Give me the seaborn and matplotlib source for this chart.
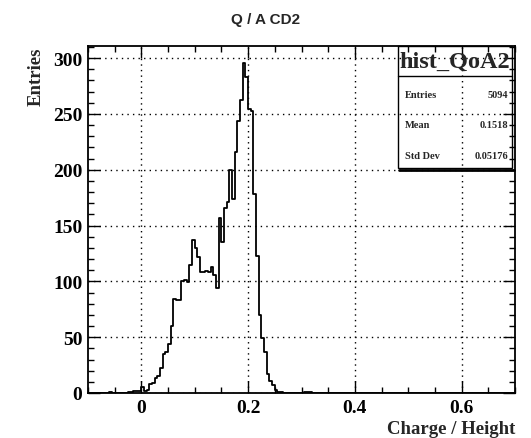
import numpy as np
import pandas as pd
import seaborn as sns
import matplotlib.pyplot as plt
from matplotlib.patches import Rectangle
from matplotlib.lines import Line2D
from matplotlib.ticker import MultipleLocator, FixedLocator

# histogram binning: 160 bins of 0.005 from -0.1 to 0.7
x_lo = -0.1
x_hi = 0.7
bin_w = 0.005

# counts, starting at the first bin (-0.1)
counts_neg = [0, 0, 0, 0, 0, 0, 0, 0, 1, 0, 0, 0, 0, 0, 0, 1, 1, 2, 2, 2]
counts_rise = [5, 2, 3, 8, 9, 13, 15, 22, 35, 37, 44, 60,
               84, 83, 83, 100, 101, 99, 115, 137, 130,
               122, 108, 108, 109, 108, 113, 106, 94]
counts_peak = [157, 135, 166, 171, 200, 174, 216, 244, 262, 296,
               283, 254, 253, 178, 123, 70, 49, 37, 17, 11, 7, 3, 1, 1]
counts_tail = [0, 0, 0, 0, 0, 0, 0, 0, 1, 1, 1]

stats_labels = ["Entries", "Mean", "Std Dev"]
stats_values = ["5094", "0.1518", "0.05176"]

n_bins = int(round((x_hi - x_lo) / bin_w))
counts = counts_neg + counts_rise + counts_peak + counts_tail
counts = counts + [0] * (n_bins - len(counts))
centers = x_lo + bin_w * (np.arange(n_bins) + 0.5)
df = pd.DataFrame({"x": centers, "w": np.array(counts, dtype=float)})

sns.set_style("ticks")
plt.rcParams['font.family'] = ['Liberation Serif', 'DejaVu Serif']
plt.rcParams['font.weight'] = 'bold'

W, H = 531, 439
fig = plt.figure(figsize=(W / 100, H / 100), dpi=100)
ax = fig.add_axes([88 / W, 1 - 394 / H, (515 - 88) / W, (394 - 47) / H])

sns.histplot(data=df, x="x", weights="w", binwidth=bin_w, binrange=(x_lo, x_hi),
             element="step", fill=False, color="black", linewidth=1.3, ax=ax)

ax.set_xlim(x_lo, x_hi)
ax.set_ylim(0, 310.8)

ax.xaxis.set_major_locator(FixedLocator([0, 0.2, 0.4, 0.6]))
ax.set_xticklabels(["0", "0.2", "0.4", "0.6"])
ax.xaxis.set_minor_locator(MultipleLocator(0.05))
ax.yaxis.set_major_locator(MultipleLocator(50))
ax.yaxis.set_minor_locator(MultipleLocator(10))
ax.tick_params(which="both", direction="in", top=True, right=True,
               width=1, labelsize=14, colors="black")
ax.tick_params(which="major", length=8.5, pad=4)
ax.tick_params(which="minor", length=4.5)
for lab in ax.get_xticklabels() + ax.get_yticklabels():
    lab.set_fontweight("bold")

ax.grid(True, which="major", color="black", linestyle=(0, (1, 3)), linewidth=1)
for s in ax.spines.values():
    s.set_linewidth(1.3)
    s.set_color("black")

ax.set_xlabel("Charge / Height", loc="right", fontsize=13.5, fontweight="bold", labelpad=3)
ax.set_ylabel("Entries", loc="top", fontsize=13.5, fontweight="bold", labelpad=6)

fig.text(266 / W, 1 - 20 / H, "Q / A CD2", ha="center", va="center",
         fontsize=11, fontweight="bold", family="Liberation Sans")

# stats box (transparent, ROOT style)
def fx(x):
    return x / W

def fy(y):
    return 1 - y / H

fig.patches.append(Rectangle((fx(398), fy(169)), fx(512) - fx(398), fy(47) - fy(169),
                             fill=False, edgecolor="black", linewidth=1,
                             transform=fig.transFigure))
fig.lines.append(Line2D([fx(399), fx(514)], [fy(170.5), fy(170.5)],
                        color="black", linewidth=2, transform=fig.transFigure))
fig.lines.append(Line2D([fx(398), fx(512)], [fy(77), fy(77)],
                        color="black", linewidth=1, transform=fig.transFigure))
fig.text(fx(455), fy(62), "hist_QoA2", ha="center", va="center",
         fontsize=17.5, fontweight="bold")
for i, (lab, val) in enumerate(zip(stats_labels, stats_values)):
    yy = fy(95 + i * 31)
    fig.text(fx(405), yy, lab, ha="left", va="center", fontsize=7.5, fontweight="bold")
    fig.text(fx(508), yy, val, ha="right", va="center", fontsize=7.5, fontweight="bold")

fig.savefig("out.png", dpi=100)
